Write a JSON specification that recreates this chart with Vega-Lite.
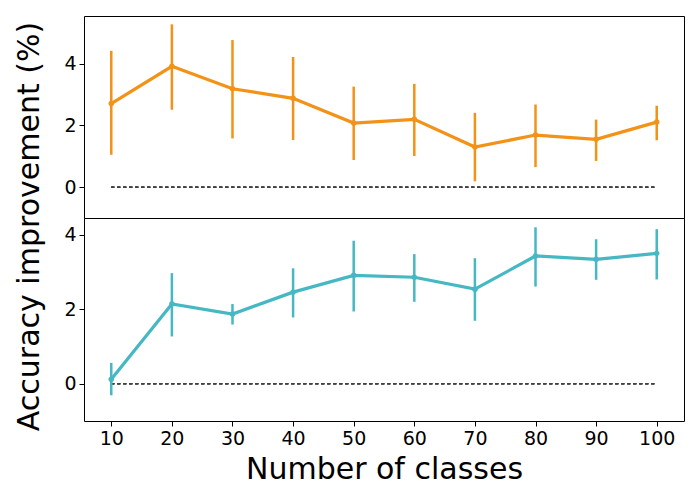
{
  "$schema": "https://vega.github.io/schema/vega-lite/v6.json",
  "padding": {"left": 13, "top": 15, "right": 15, "bottom": 5},
  "background": "white",
  "bounds": "flush",
  "data": {"values": [
    {"panel": "top", "classes": 10, "mean": 2.71, "lo": 1.05, "hi": 4.42},
    {"panel": "top", "classes": 20, "mean": 3.92, "lo": 2.51, "hi": 5.28},
    {"panel": "top", "classes": 30, "mean": 3.19, "lo": 1.58, "hi": 4.77},
    {"panel": "top", "classes": 40, "mean": 2.88, "lo": 1.53, "hi": 4.22},
    {"panel": "top", "classes": 50, "mean": 2.08, "lo": 0.88, "hi": 3.26},
    {"panel": "top", "classes": 60, "mean": 2.20, "lo": 1.01, "hi": 3.35},
    {"panel": "top", "classes": 70, "mean": 1.30, "lo": 0.19, "hi": 2.41},
    {"panel": "top", "classes": 80, "mean": 1.69, "lo": 0.65, "hi": 2.68},
    {"panel": "top", "classes": 90, "mean": 1.55, "lo": 0.85, "hi": 2.19},
    {"panel": "top", "classes": 100, "mean": 2.11, "lo": 1.52, "hi": 2.64},
    {"panel": "bottom", "classes": 10, "mean": 0.12, "lo": -0.31, "hi": 0.56},
    {"panel": "bottom", "classes": 20, "mean": 2.14, "lo": 1.27, "hi": 2.97},
    {"panel": "bottom", "classes": 30, "mean": 1.87, "lo": 1.59, "hi": 2.14},
    {"panel": "bottom", "classes": 40, "mean": 2.46, "lo": 1.78, "hi": 3.10},
    {"panel": "bottom", "classes": 50, "mean": 2.91, "lo": 1.94, "hi": 3.84},
    {"panel": "bottom", "classes": 60, "mean": 2.86, "lo": 2.20, "hi": 3.48},
    {"panel": "bottom", "classes": 70, "mean": 2.54, "lo": 1.69, "hi": 3.37},
    {"panel": "bottom", "classes": 80, "mean": 3.43, "lo": 2.61, "hi": 4.20},
    {"panel": "bottom", "classes": 90, "mean": 3.34, "lo": 2.79, "hi": 3.88},
    {"panel": "bottom", "classes": 100, "mean": 3.50, "lo": 2.80, "hi": 4.15}
  ]},
  "spacing": 0,
  "vconcat": [
    {
      "width": 600,
      "height": 202,
      "transform": [{"filter": "datum.panel === 'top'"}],
      "encoding": {
        "x": {"field": "classes", "type": "quantitative", "scale": {"domain": [5.5, 104.5], "nice": false, "zero": false}, "axis": null}
      },
      "layer": [
        {
          "mark": {"type": "rule", "color": "#444444", "strokeWidth": 0.8, "strokeDash": [3, 3]},
          "encoding": {"x": {"datum": 10}, "x2": {"datum": 100}, "y": {"datum": 0}}
        },
        {
          "mark": {"type": "rule", "color": "#F29318", "strokeWidth": 2.5},
          "encoding": {
            "y": {"field": "lo", "type": "quantitative", "scale": {"domain": [-1, 5.55], "nice": false, "zero": false},
              "axis": {"values": [0, 2, 4], "title": "Accuracy improvement (%)", "titleX": -70, "titleY": 210, "titleBaseline": "top", "titleAngle": -90, "titleAlign": "center"}},
            "y2": {"field": "hi"}
          }
        },
        {
          "mark": {"type": "line", "color": "#F29318", "strokeWidth": 3.2, "point": {"filled": true, "size": 30, "color": "#F29318"}},
          "encoding": {"y": {"field": "mean", "type": "quantitative"}}
        }
      ]
    },
    {
      "width": 600,
      "height": 203,
      "transform": [{"filter": "datum.panel === 'bottom'"}],
      "encoding": {
        "x": {"field": "classes", "type": "quantitative", "scale": {"domain": [5.5, 104.5], "nice": false, "zero": false},
          "axis": {"values": [10, 20, 30, 40, 50, 60, 70, 80, 90, 100], "title": "Number of classes"}}
      },
      "layer": [
        {
          "mark": {"type": "rule", "color": "#444444", "strokeWidth": 0.8, "strokeDash": [3, 3]},
          "encoding": {"x": {"datum": 10}, "x2": {"datum": 100}, "y": {"datum": 0}}
        },
        {
          "mark": {"type": "rule", "color": "#45B8C4", "strokeWidth": 2.5},
          "encoding": {
            "y": {"field": "lo", "type": "quantitative", "scale": {"domain": [-1, 4.45], "nice": false, "zero": false},
              "axis": {"values": [0, 2, 4], "title": null}},
            "y2": {"field": "hi"}
          }
        },
        {
          "mark": {"type": "line", "color": "#45B8C4", "strokeWidth": 3.2, "point": {"filled": true, "size": 30, "color": "#45B8C4"}},
          "encoding": {"y": {"field": "mean", "type": "quantitative"}}
        }
      ]
    }
  ],
  "config": {
    "font": "DejaVu Sans",
    "view": {"stroke": "black", "strokeWidth": 1},
    "axis": {
      "grid": false,
      "domain": false,
      "ticks": true,
      "tickColor": "black",
      "tickSize": 5,
      "tickWidth": 1,
      "labelFont": "DejaVu Sans",
      "labelFontSize": 19,
      "labelColor": "black",
      "labelPadding": 3,
      "titleFont": "DejaVu Sans",
      "titleFontSize": 30,
      "titleFontWeight": "normal",
      "titleColor": "black"
    },
    "axisX": {"titlePadding": 6}
  }
}
